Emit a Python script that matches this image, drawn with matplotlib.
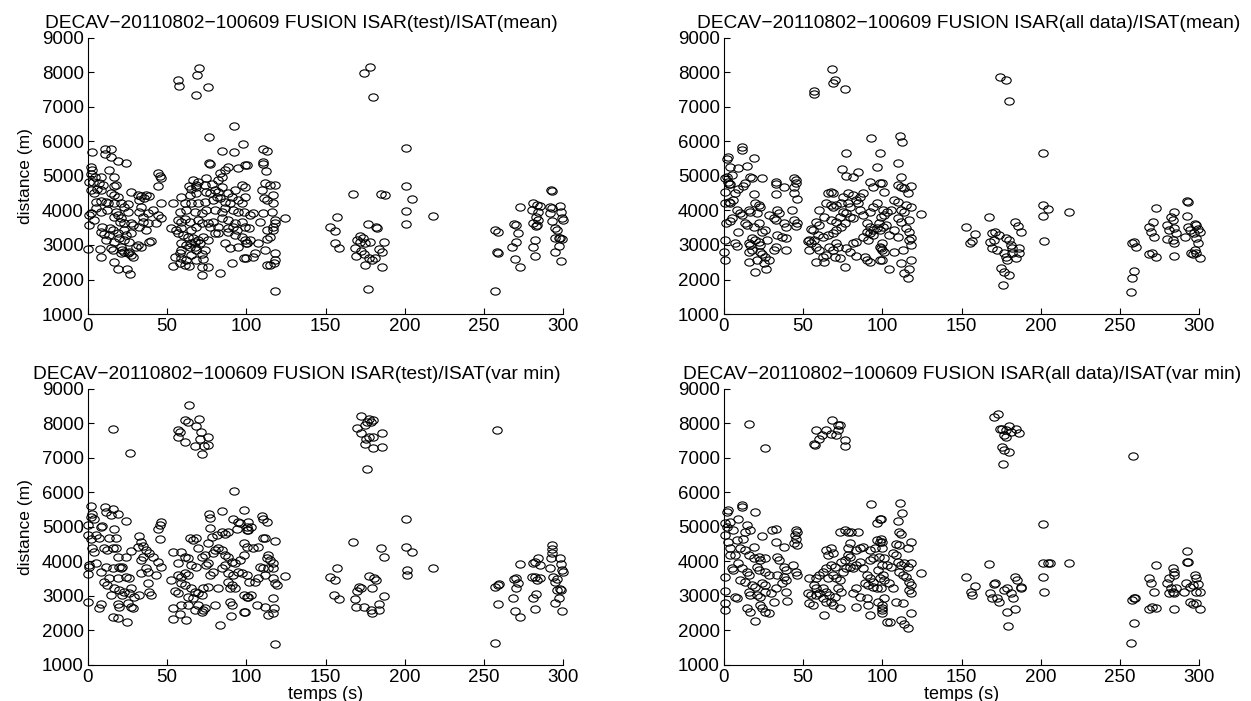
import numpy as np
import matplotlib
matplotlib.use("Agg")
from matplotlib import pyplot as plt
from matplotlib.markers import MarkerStyle
from matplotlib.transforms import Affine2D

plt.rcParams['font.family'] = ['Liberation Sans', 'DejaVu Sans']

# ---- data (temps s, distance m) ----
# ISAR(test)/ISAT(mean)
pts_test_mean = [
    (2.3,5685),(10.6,5772),(14.4,5772),(10.6,5627),(14.8,5559),(19.1,5443),(24.0,5366),
    (2.1,5250),(2.8,5173),(1.7,5057),(8.5,4980),(13.4,5173),(16.5,4980),(4.2,4960),(3.4,4835),
    (0.6,4835),(7.0,4806),(9.8,4738),(16.5,4719),(17.8,4738),(1.7,4593),(5.9,4613),(3.8,4516),
    (8.5,4593),(14.4,4497),(16.5,4448),(19.1,4400),(27.1,4526),(4.9,4255),(8.5,4284),(11.2,4255),
    (12.7,4207),(16.5,4226),(20.8,4207),(25.0,4188),(22.9,4110),(1.7,3917),(0.6,3869),(4.9,4062),
    (8.1,3965),(12.3,4014),(17.6,3965),(19.1,3869),(20.8,3772),(20.4,3676),(22.9,3627),(0.5,3579),
    (3.8,3724),(16.5,3801),(27.1,3627),(28.2,3579),(25.4,3965),(9.1,3531),(14.0,3482),(15.5,3434),
    (8.1,3386),(10.2,3318),(13.4,3289),(18.7,3337),(22.9,3434),(24.0,3289),(27.1,3337),(19.7,3193),
    (22.9,3144),(26.1,3096),(11.2,3144),(16.5,3096),(0.3,2883),(7.6,2883),(14.4,2903),(15.5,2854),
    (20.8,2951),(21.8,2854),(22.9,2806),(25.0,2758),(27.1,2710),(26.1,2806),(28.2,2661),(31.4,2999),
    (30.3,2951),(8.1,2661),(16.5,2516),(20.8,2777),(18.7,2294),(24.6,2294),(26.7,2159),
    (31.4,4448),(33.5,4419),(36.7,4448),(38.8,4419),(32.4,4303),(35.6,4352),(46.2,4207),(33.5,4110),
    (32.4,3965),(37.7,3936),(34.6,3820),(40.9,4014),(44.1,3869),(46.2,3772),(37.7,3627),(34.6,3676),
    (32.4,3531),(36.7,3434),(38.8,3096),(39.9,3125),(33.5,2951),(43.0,3627),(44.1,4709),(46.2,4931),
    (45.2,4999),(44.5,5076),
    (88.6,5269),(95.0,5221),(99.2,5318),(100.3,5318),(86.5,5173),(83.3,5076),(84.4,4980),(82.3,4883),
    (78.0,4767),(74.8,4931),(73.8,4738),(68.5,4738),(66.4,4883),(63.6,4709),(69.5,4835),(64.9,4612),
    (68.5,4670),(58.9,4400),(64.2,4448),(68.5,4497),(74.8,4545),(77.0,4497),(80.1,4593),(82.3,4545),
    (84.4,4690),(88.6,4497),(97.1,4738),(99.2,4690),(92.9,4593),(90.7,4400),(95.0,4303),(98.8,4400),
    (61.5,4226),(65.3,4226),(53.6,4226),(69.5,4207),(73.8,4255),(79.1,4303),(81.2,4380),(83.3,4352),
    (86.5,4255),(89.7,4207),(97.1,4207),(57.9,3965),(62.1,4014),(67.4,3965),(71.7,3917),(74.8,4014),
    (80.1,4014),(84.4,3965),(86.5,4062),(91.8,4014),(95.0,3965),(98.2,3965),(56.8,3724),(61.1,3743),
    (58.9,3676),(64.2,3676),(69.5,3724),(71.7,3627),(75.9,3627),(79.1,3676),(84.4,3772),(88.6,3724),
    (92.9,3627),(97.1,3676),(52.6,3482),(55.8,3434),(58.9,3482),(65.3,3434),(68.5,3531),(77.0,3531),
    (82.3,3531),(88.6,3482),(91.8,3531),(93.9,3434),(99.2,3531),(56.8,3337),(60.0,3289),(63.2,3241),
    (66.4,3193),(69.5,3144),(65.3,3048),(67.4,3096),(70.6,3048),(58.9,3048),(62.1,2999),(72.7,3241),
    (75.9,3144),(80.1,3337),(82.3,3337),(88.6,3386),(92.9,3289),(97.1,3241),(99.2,3144),(100.3,3048),
    (86.5,3048),(89.7,2903),(95.0,2951),(64.2,2951),(58.9,2854),(68.5,2854),(73.8,2854),(54.7,2661),
    (57.9,2758),(58.9,2613),(62.1,2565),(65.3,2710),(68.5,2565),(72.7,2584),(71.7,2738),(53.6,2391),
    (57.9,2468),(61.1,2420),(63.6,2391),(71.7,2352),(75.9,2371),(72.1,2130),(83.3,2178),(90.7,2468),
    (98.2,2613),(67.4,2951),
    (56.8,7780),(57.2,7610),(69.0,7925),(69.9,8120),(68.0,7350),(75.8,7590),(92.2,6460),(76.5,6140),
    (98.0,5930),(92.4,5700),(84.3,5730),(76.3,5380),(76.9,5360),
    (118.0,4748),(114.9,4748),(111.7,4786),(109.6,4593),(111.0,4352),(113.2,4303),(116.6,4448),
    (117.0,4207),(115.9,3965),(110.6,3917),(118.0,3724),(118.0,3627),(117.0,3531),(117.0,3434),
    (113.2,3434),(114.9,3241),(112.7,3164),(111.7,2854),(118.0,2758),(118.0,2565),(117.4,2468),
    (113.2,2420),(114.9,2420),(105.3,2758),(104.2,2661),(107.4,3048),(102.1,3144),(100.0,3048),
    (101.7,3482),(108.5,3676),(99.6,2613),(102.1,3869),(104.2,3936),(124.4,3791),
    (110.6,5781),(112.7,5714),(110.2,5414),(110.2,5347),(112.1,5153),(118.0,1676),
    (174.3,7975),(177.7,8160),(179.8,7300),(200.6,5810),(200.6,4710),(204.7,4330),(201.0,3975),
    (201.0,3610),(217.7,3840),(167.0,4480),(184.7,4480),(187.7,4440),(157.0,3800),(152.8,3530),
    (155.6,3415),(155.6,3050),(158.5,2920),(171.8,3260),(173.5,3190),(170.0,3145),(177.0,3600),
    (181.5,3530),(182.5,3500),(178.2,3100),(187.0,3090),(183.6,2885),(185.3,2800),(168.4,2920),
    (172.6,2835),(169.0,2690),(174.3,2740),(177.5,2620),(179.0,2560),(175.0,2420),(185.3,2350),
    (176.8,1715),(172.0,3100),(175.0,3050),(181.0,2610),
    (256.9,1665),(257.0,3430),(258.6,3385),(258.0,2800),(258.6,2780),(272.5,4110),(268.7,3600),
    (270.4,3580),(271.4,3340),(270.0,3100),(267.8,2950),(269.7,2590),(272.5,2370),(281.0,4210),
    (283.6,4160),(285.3,4140),(280.0,4015),(284.2,3965),(283.0,3800),(284.0,3720),(280.6,3650),
    (283.6,3580),(283.0,3550),(282.0,3145),(280.6,2950),(282.0,2690),(292.0,4590),(292.7,4570),
    (291.7,4110),(292.7,4060),(298.0,4130),(291.7,3935),(298.5,3965),(299.0,3770),(299.8,3720),
    (293.0,3700),(295.0,3480),(296.0,3430),(295.0,3200),(297.0,3210),(298.0,3190),(299.0,3180),
    (297.0,2970),(294.5,2790),(298.7,2545),
]

# ISAR(all data)/ISAT(mean)
pts_all_mean = [
    (57.0,7462),(57.0,7366),(68.3,8090),(70.2,7781),(68.7,7684),(76.2,7520),(92.6,6110),(98.5,5675),
    (76.8,5675),(96.4,5269),(74.3,5192),(77.3,5000),(84.7,5125),(81.5,4980),(92.1,4835),(98.5,4786),
    (11.3,5830),(11.3,5752),(1.7,5482),(2.8,5540),(19.2,5511),(14.5,5288),(9.1,5240),(3.8,5269),
    (1.7,4980),(2.8,4835),(5.3,5028),(0.6,4931),(3.0,4770),(3.9,4760),(24.0,4931),(16.6,4980),
    (17.7,4931),(13.4,4786),(12.3,4709),(9.1,4613),(7.0,4516),(6.0,4303),(3.2,4255),(3.8,4207),
    (0.6,4545),(0.6,4207),(8.1,4014),(10.2,3936),(11.7,3869),(18.7,4477),(19.8,4207),(21.9,4158),
    (23.0,4110),(15.5,4014),(16.6,3965),(28.3,3869),(20.9,3936),(4.9,3772),(3.8,3704),(1.1,3627),
    (9.1,3386),(13.4,3627),(14.5,3579),(18.7,3531),(21.9,3627),(26.2,3434),(24.0,3386),(17.7,3193),
    (19.8,3144),(15.5,3048),(16.6,2999),(21.9,3096),(23.0,2999),(27.2,3144),(7.0,3048),(8.1,2970),
    (0.6,3144),(0.2,2806),(0.6,2565),(15.5,2806),(17.7,2854),(23.0,2806),(24.0,2738),(26.2,2661),
    (28.3,2565),(15.5,2516),(20.9,2565),(19.4,2226),(26.6,2294),(25.1,2468),(32.6,2951),(31.5,2854),
    (32.6,4835),(32.6,4767),(32.6,4477),(33.6,4014),(34.7,3936),(37.9,4690),(44.3,4931),(45.3,4883),
    (45.3,4786),(44.3,4690),(44.3,4497),(46.4,4323),(46.4,3627),(45.3,3550),(37.9,3627),(38.9,3531),
    (36.8,3241),(38.9,3193),(33.6,3289),(44.3,3724),(38.9,2854),(43.2,4014),(31.5,3772),(32.6,3724),
    (65.5,4516),(67.7,4545),(68.7,4497),(64.5,4207),(67.7,4158),(60.2,4014),(63.4,3820),(58.1,3676),
    (60.2,3579),(54.9,3454),(56.0,3434),(53.8,3144),(52.8,3125),(54.9,3048),(53.8,2854),(58.1,2951),
    (60.2,2854),(58.1,2516),(63.4,2497),(62.3,2661),(64.5,2710),(66.6,2951),(68.7,2854),(70.9,3048),
    (71.9,2951),(62.3,3241),(65.5,3289),(68.7,3337),(70.9,3434),(74.0,3531),(76.2,3627),(67.7,3724),
    (70.9,3676),(73.0,3820),(75.1,3965),(77.2,3917),(79.4,3820),(81.5,3772),(78.3,4207),(79.4,4110),
    (83.6,4303),(84.7,4207),(85.7,4400),(87.9,4497),(81.5,4448),(68.7,4110),(70.9,4158),(74.0,4207),
    (85.7,4014),(87.9,3869),(90.0,3627),(92.1,3531),(94.2,3434),(90.0,3386),(92.1,3337),(94.2,3289),
    (96.4,3482),(98.5,3434),(100.6,3531),(87.9,3241),(91.1,3144),(83.6,3096),(81.5,3048),(88.9,2661),
    (90.0,2565),(92.1,2497),(98.5,2951),(99.6,2854),(98.5,2565),(76.2,2371),(83.6,2680),(73.0,2613),
    (69.8,2661),(77.2,2903),(79.4,2806),(94.2,4110),(96.4,4207),(100.6,4014),(92.1,3965),(94.2,4690),
    (75.1,4400),(78.3,4497),(59.1,3289),(57.0,3144),
    (174.5,7878),(177.7,7781),(180.2,7182),(110.9,6158),(112.3,5975),(110.0,5366),(111.7,4980),
    (109.6,4738),(111.7,4690),(113.8,4641),(118.1,4709),(100.0,4786),(101.1,4545),(116.0,4497),
    (107.4,4303),(109.6,4255),(114.9,4158),(118.1,4110),(105.3,4014),(103.2,3965),(111.7,4014),
    (113.8,3965),(124.5,3888),(101.1,3869),(98.9,3820),(109.6,3772),(111.7,3676),(117.0,3724),
    (97.9,3627),(102.1,3579),(107.4,3434),(114.9,3482),(117.0,3386),(104.3,3289),(109.6,3241),
    (118.1,3193),(117.0,3144),(100.0,3048),(118.1,2999),(98.9,2903),(101.1,2806),(107.4,2806),
    (112.8,2854),(100.0,2565),(118.1,2565),(111.7,2487),(104.3,2294),(117.0,2294),(113.8,2178),
    (116.0,2033),
    (153.0,3531),(158.5,3308),(156.4,3115),(155.3,3048),(167.4,3820),(183.6,3656),(185.7,3550),
    (187.2,3366),(171.3,3386),(169.1,3337),(173.4,3289),(168.1,3096),(170.2,3144),(177.7,3193),
    (179.8,3144),(169.1,2903),(172.3,2854),(180.9,2999),(181.9,2903),(186.2,2903),(176.6,2777),
    (181.9,2758),(186.2,2777),(177.7,2661),(178.7,2565),(184.0,2613),(175.1,2342),(176.6,2226),
    (179.8,2130),(176.2,1840),
    (201.1,5656),(201.5,4158),(201.1,3840),(204.3,4033),(201.7,3125),(217.5,3965),
    (257.1,1647),(257.5,2052),(259.0,2255),(257.5,3067),(259.0,3086),(260.0,2932),(268.2,2738),
    (270.3,2758),(272.4,2642),(268.2,3531),(270.9,3675),(269.2,3386),(271.4,3241),(272.4,4081),
    (284.2,2680),(279.9,3579),(281.0,3434),(279.9,3163),(282.1,3820),(283.1,3724),(284.2,3965),
    (284.2,3482),(285.3,3337),(283.1,3144),(284.2,3048),(292.3,4274),(292.7,4255),(292.3,3840),
    (292.7,3531),(293.8,3434),(291.0,3241),(297.0,3608),(298.1,3579),(299.1,3453),(300.2,3386),
    (296.6,3337),(298.1,3193),(299.1,3067),(294.9,2777),(297.0,2854),(298.1,2758),(296.0,2729),
    (300.2,2622),
]

# ISAR(test)/ISAT(var min)
pts_test_var = [
    (63.6,8526),(61.1,8091),(63.2,8043),(70.0,8120),(56.8,7801),(57.9,7753),(68.5,7927),(71.2,7753),
    (75.9,7608),(70.6,7560),(56.8,7608),(61.5,7463),(67.4,7347),(73.4,7337),(75.9,7386),(72.1,7115),
    (15.9,7830),(26.5,7144),(92.2,6033),(98.2,5483),(84.4,5454),(76.3,5386),(76.9,5260),
    (2.1,5608),(2.8,5386),(1.7,5289),(3.8,5222),(10.6,5579),(11.2,5434),(15.5,5511),(19.1,5386),
    (14.4,5337),(24.0,5173),(8.1,4999),(9.1,5028),(16.5,4932),(0.2,5048),(0.3,4758),(1.7,4661),
    (4.9,4758),(7.0,4680),(13.4,4685),(17.6,4680),(3.8,4275),(2.8,4372),(10.2,4372),(12.3,4323),
    (15.5,4372),(17.6,4372),(18.7,4130),(24.0,4130),(27.1,4294),(0.6,3889),(0.6,3840),(0.3,3618),
    (4.9,3937),(8.1,3695),(11.2,3840),(15.5,3792),(19.7,3840),(20.8,3792),(21.8,3840),(18.7,3502),
    (13.4,3502),(10.2,3406),(12.3,3309),(24.0,3551),(26.1,3502),(16.5,3213),(19.7,3164),(22.9,3116),
    (21.8,3019),(27.1,3213),(26.1,3068),(29.2,2970),(32.4,3019),(14.4,3019),(8.1,2769),(7.0,2633),
    (0.3,2821),(18.7,2769),(19.7,2672),(25.0,2778),(27.1,2681),(15.5,2391),(18.7,2342),(24.6,2246),
    (28.2,2633),(38.8,3116),(39.9,3019),(37.7,3357),(32.4,4734),(33.5,4565),(36.7,4323),(38.8,4246),
    (33.5,4034),(34.6,4130),(40.9,4130),(44.1,3985),(46.2,3840),(37.7,3695),(33.5,3647),(36.7,3792),
    (43.0,3599),(44.1,4951),(45.2,5048),(46.2,5144),(45.2,4661),(31.4,4420),(34.6,4449),
    (53.6,4256),(58.9,4256),(56.8,3937),(52.6,3454),(56.8,3599),(58.9,3551),(54.7,3135),(56.8,3068),
    (53.6,2633),(57.9,2459),(53.6,2324),(62.1,2295),(61.1,4130),(63.2,4082),(64.2,4662),(66.4,4614),
    (68.5,4681),(69.5,4372),(71.7,4130),(73.8,4178),(65.3,3889),(68.5,3840),(61.1,3647),(63.2,3599),
    (58.9,3357),(61.1,3309),(65.3,3213),(67.4,3116),(63.2,2970),(66.4,2923),(69.5,3068),(71.7,3019),
    (58.9,2729),(63.2,2729),(67.4,2584),(71.7,2535),(69.5,2729),(72.7,3213),(75.9,3261),(77.0,3599),
    (79.1,3695),(74.8,3889),(75.9,3937),(79.1,4227),(80.1,4323),(82.3,4372),(84.4,4323),(75.9,4517),
    (77.0,4971),(78.0,4710),(81.2,4758),(84.4,4854),(86.5,4806),(88.6,4854),(91.8,5241),(95.0,5144),
    (96.0,5097),(100.3,4999),(100.3,4903),(93.9,4951),(98.2,4517),(100.3,4420),(86.5,4178),(88.6,4130),
    (90.7,3985),(92.9,3937),(96.0,4034),(98.2,4178),(84.4,3792),(86.5,3889),(88.6,3647),(91.8,3599),
    (95.0,3695),(97.1,3647),(100.3,3599),(101.4,3406),(88.6,3406),(90.7,3309),(92.9,3213),(89.7,3213),
    (98.2,3019),(100.3,2970),(82.3,3213),(89.7,2827),(90.7,2729),(98.2,2535),(90.3,2420),(83.3,2150),
    (80.1,2729),(73.8,2633),(72.7,2584),
    (172.6,8216),(177.5,8139),(179.6,8110),(178.5,8043),(176.1,8043),(175.0,7946),(170.1,7869),
    (172.6,7733),(177.5,7608),(179.6,7608),(175.4,7560),(185.6,7733),(174.7,7415),(179.6,7289),
    (185.4,7308),(176.0,6690),
    (109.6,5319),(110.6,5241),(112.7,5144),(101.1,5144),(103.2,4999),(101.1,4903),(110.6,4681),
    (111.7,4662),(118.0,4584),(107.4,4420),(104.2,4372),(113.8,4178),(112.7,4082),(114.9,4034),
    (117.0,3937),(108.5,3840),(110.6,3792),(113.8,3792),(117.0,3792),(124.4,3570),(117.0,3502),
    (118.0,3357),(119.1,3309),(111.7,3599),(107.4,3502),(105.3,3406),(103.2,3019),(101.0,2970),
    (116.6,2942),(111.7,2681),(113.8,2440),(116.6,2488),(117.4,2652),(106.4,2729),(98.9,2536),
    (118.0,1609),
    (167.3,4565),(184.9,4372),(187.0,4130),(156.9,3792),(152.7,3531),(155.6,3464),(155.2,3019),
    (158.4,2903),(177.5,3580),(180.7,3502),(181.7,3454),(171.1,3261),(172.2,3213),(170.1,3135),
    (179.0,3232),(168.6,2903),(187.0,2999),(169.1,2681),(174.3,2681),(178.6,2584),(179.0,2488),
    (183.9,2749),(183.9,2584),
    (200.8,5241),(200.6,4420),(204.7,4275),(201.3,3744),(201.3,3599),(217.7,3812),
    (258.0,7801),(256.9,1638),(256.9,3251),(258.6,3309),(259.7,3338),(258.6,2749),(272.5,3918),
    (268.7,3483),(270.4,3502),(271.4,3357),(270.4,3213),(268.2,2942),(269.3,2565),(272.5,2391),
    (280.6,3937),(282.1,3985),(284.2,4101),(285.3,3889),(280.0,3551),(282.1,3551),(283.2,3454),
    (285.3,3522),(282.7,3039),(281.0,2942),(282.1,2604),(292.8,4468),(292.8,4352),(292.8,4227),
    (292.1,4101),(291.7,3812),(298.1,4082),(298.5,3908),(299.1,3744),(299.8,3695),(293.4,3551),
    (295.9,3483),(294.9,3386),(295.9,3164),(297.7,3193),(298.5,3154),(297.0,2942),(294.5,2797),
    (299.1,2565),
]

# ISAR(all data)/ISAT(var min)
pts_all_var = [
    (15.5,7994),(26.2,7289),(58.1,7820),(57.0,7415),(57.7,7366),(61.9,7675),(64.1,7801),(68.3,8091),
    (71.9,7965),(73.0,7946),(67.7,7705),(70.9,7675),(76.2,7511),(76.2,7347),(71.9,7801),(60.2,7560),
    (92.6,5676),(98.5,5241),(96.4,5097),
    (11.3,5647),(11.3,5579),(1.7,5434),(2.8,5483),(19.4,5434),(14.5,5067),(9.1,5241),(3.8,5144),
    (0.6,5097),(1.7,4999),(6.0,4903),(0.6,4758),(8.1,4613),(12.3,4661),(13.4,4855),(16.6,4903),
    (24.0,4729),(2.8,4565),(3.8,4372),(7.0,4178),(3.8,4178),(10.2,4372),(13.4,4323),(18.7,4420),
    (15.5,4178),(18.7,4082),(21.9,4130),(23.0,4034),(26.2,4101),(4.9,3792),(6.0,3744),(0.6,3551),
    (9.1,3937),(11.3,3792),(14.5,3695),(15.5,3599),(20.9,3840),(21.9,3744),(26.2,3695),(28.3,3599),
    (10.2,3454),(13.4,3406),(17.7,3309),(19.8,3261),(24.0,3357),(26.2,3309),(0.6,3135),(7.0,2970),
    (8.1,2923),(15.5,3116),(16.6,3019),(20.9,3019),(23.0,2970),(26.2,3116),(29.4,3068),(0.6,2778),
    (0.6,2584),(14.5,2633),(16.6,2536),(23.0,2729),(24.0,2633),(26.2,2517),(28.3,2488),(31.5,2826),
    (19.4,2266),(30.4,4903),(32.6,4951),(32.6,4565),(33.6,4130),(34.7,4034),(37.9,4420),(45.3,4903),
    (46.4,4855),(44.9,4758),(45.7,4661),(44.3,4517),(46.4,4468),(43.6,3889),(45.3,3695),(46.4,3599),
    (37.9,3840),(38.9,3744),(37.9,3551),(38.9,3454),(36.8,3357),(38.9,3116),(33.6,3599),(40.0,2845),
    (32.6,3213),
    (53.8,3502),(52.8,3068),(54.9,3019),(53.8,2778),(56.0,2729),(63.4,2440),(58.1,3019),(60.2,3068),
    (57.0,3309),(58.1,3213),(62.3,3213),(64.5,3116),(62.3,2923),(64.5,2826),(67.7,2826),(68.7,2729),
    (73.0,2633),(66.6,3019),(69.8,2970),(71.9,3213),(74.0,3116),(60.2,3599),(62.3,3695),(58.1,3502),
    (65.5,3502),(68.7,3599),(70.9,3502),(73.0,3454),(64.5,3792),(67.7,3889),(69.8,3840),(75.1,3695),
    (77.2,3792),(74.0,3985),(76.2,4034),(64.5,4323),(67.7,4372),(65.5,4178),(68.7,4227),(79.4,3840),
    (81.5,3792),(83.6,3889),(85.7,3985),(78.3,4178),(79.4,4130),(83.6,4323),(85.7,4372),(79.4,4517),
    (78.3,4372),(87.9,4420),(73.0,4855),(76.2,4903),(78.3,4855),(80.4,4855),(84.7,4855),(92.1,4323),
    (95.3,4372),(98.5,4565),(99.6,4372),(92.1,4034),(94.2,4101),(87.9,3792),(90.0,3599),(92.1,3502),
    (94.2,3406),(89.0,3357),(91.1,3309),(94.2,3261),(96.4,3213),(98.5,3502),(100.6,3599),(97.5,3744),
    (99.6,3889),(96.4,4613),(83.6,3213),(81.5,3068),(85.7,2970),(90.0,2923),(91.1,2729),(92.1,2440),
    (83.6,2681),(97.5,2826),(99.6,2633),(99.6,2488),(102.8,2246),
    (170.2,8188),(173.0,8284),(174.5,7849),(175.5,7849),(179.8,7927),(177.7,7801),(176.6,7656),
    (177.7,7608),(184.0,7849),(186.2,7733),(180.9,7753),(175.5,7318),(176.6,7222),(180.2,7173),
    (176.2,6835),
    (110.9,5695),(112.3,5405),(109.6,5174),(99.4,5222),(110.6,4855),(111.7,4806),(98.9,4661),
    (100.0,4565),(108.5,4488),(110.6,4468),(118.1,4546),(116.0,4391),(106.4,4227),(108.5,4178),
    (101.1,4082),(97.9,4130),(103.2,3889),(105.3,3840),(109.6,3985),(111.7,3889),(113.8,3937),
    (116.0,3840),(118.1,3937),(124.5,3647),(110.6,3695),(112.8,3599),(114.9,3551),(117.0,3406),
    (118.1,3309),(117.0,3164),(118.1,3068),(101.1,3454),(104.3,3357),(106.4,3213),(98.9,3213),
    (101.1,2923),(100.0,2729),(108.5,2826),(112.8,2778),(100.0,2584),(104.9,2246),(118.1,2508),
    (111.7,2295),(113.8,2169),(116.0,2053),
    (153.0,3531),(158.5,3290),(156.0,3116),(156.4,3019),(167.4,3908),(183.6,3531),(185.1,3454),
    (187.2,3261),(170.2,3329),(171.3,3357),(168.1,3068),(169.1,2923),(172.3,2923),(173.8,2826),
    (176.6,3164),(178.7,3213),(180.9,3068),(182.3,2942),(187.2,3232),(178.7,2517),(183.6,2614),
    (179.4,2131),
    (201.1,5077),(201.5,3937),(204.3,3956),(201.1,3541),(201.7,3097),(205.8,3937),(217.5,3937),
    (258.1,7048),(257.1,1628),(259.0,2218),(257.5,2875),(259.0,2942),(259.6,2923),(268.2,2614),
    (270.3,2681),(272.4,2633),(268.2,3502),(269.7,3357),(271.4,3116),(272.4,3889),(284.2,2604),
    (281.0,3502),(279.9,3357),(282.1,3213),(283.1,3792),(284.2,3695),(284.2,3599),(283.1,3116),
    (284.2,3068),(285.3,3213),(281.0,3068),(292.3,4304),(292.3,3985),(292.7,3966),(291.7,3357),
    (290.6,3116),(297.0,3599),(298.1,3502),(299.1,3329),(300.2,3116),(293.8,3261),(296.0,3309),
    (293.8,2826),(296.0,2749),(298.1,2778),(300.2,2604),(298.1,3116),
]

titles = [
    "DECAV\u221220110802\u2212100609 FUSION ISAR(test)/ISAT(mean)",
    "DECAV\u221220110802\u2212100609 FUSION ISAR(all data)/ISAT(mean)",
    "DECAV\u221220110802\u2212100609 FUSION ISAR(test)/ISAT(var min)",
    "DECAV\u221220110802\u2212100609 FUSION ISAR(all data)/ISAT(var min)",
]
title_x = [0.45, 0.515, 0.44, 0.50]
panels = [pts_test_mean, pts_all_mean, pts_test_var, pts_all_var]

fig = plt.figure(figsize=(12.51, 7.01), dpi=100)
boxes = [
    [0.0703, 0.552, 0.380, 0.394],
    [0.5787, 0.552, 0.380, 0.394],
    [0.0703, 0.0518, 0.380, 0.3933],
    [0.5787, 0.0518, 0.380, 0.3933],
]

ellipse = MarkerStyle('o', fillstyle='none', transform=Affine2D().scale(1.3, 1.0))

for i, (pts, box) in enumerate(zip(panels, boxes)):
    ax = fig.add_axes(box)
    arr = np.array(pts)
    ax.plot(arr[:, 0], arr[:, 1], linestyle='none', marker=ellipse, clip_on=False,
            markersize=5.2, markeredgecolor='black', markeredgewidth=0.8)
    ax.set_xlim(0, 300)
    ax.set_ylim(1000, 9000)
    ax.set_xticks([0, 50, 100, 150, 200, 250, 300])
    ax.set_yticks(range(1000, 9001, 1000))
    ax.spines['top'].set_visible(False)
    ax.spines['right'].set_visible(False)
    ax.tick_params(direction='in', length=4, width=0.8, labelsize=13.5, pad=3)
    ax.set_title(titles[i], fontsize=13.8, pad=7, x=title_x[i])
    if i % 2 == 0:
        ax.set_ylabel('distance (m)', fontsize=12.5, labelpad=6)
    if i >= 2:
        ax.set_xlabel('temps (s)', fontsize=13, labelpad=0)

fig.savefig("out.png", dpi=100)
